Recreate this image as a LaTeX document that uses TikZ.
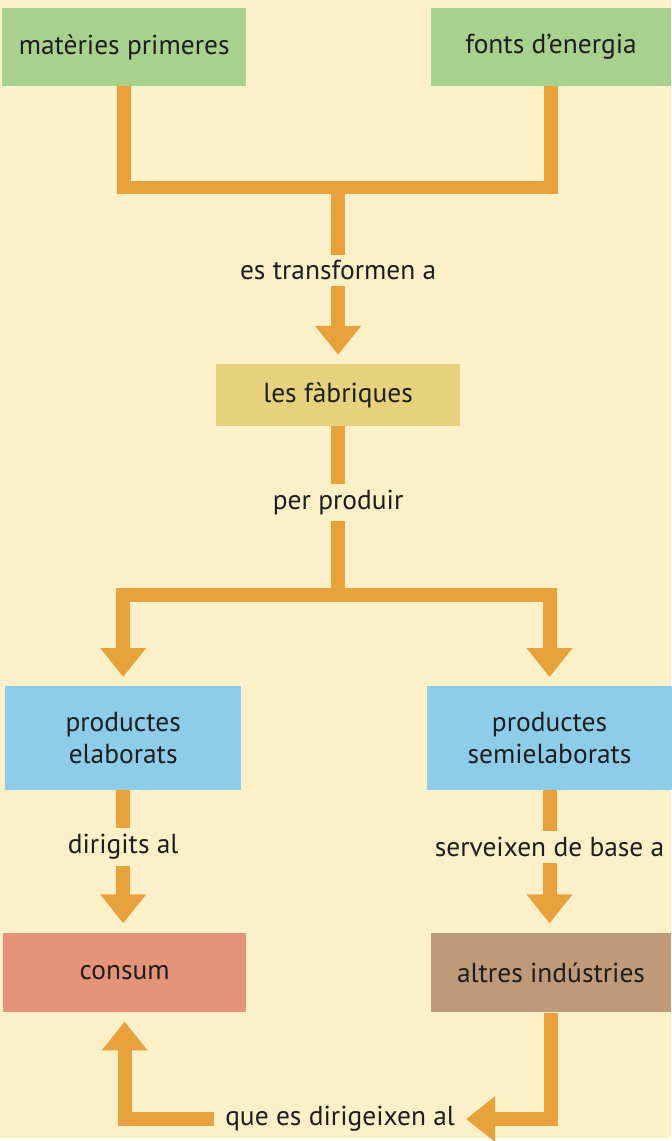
\documentclass[tikz,border=0pt]{standalone}
\usepackage{fontspec}
\setmainfont{PT Sans}
\usepackage{xcolor}
\usetikzlibrary{arrows.meta}

\definecolor{paper}{HTML}{FCF0C8}
\definecolor{flow}{HTML}{E9A23B}
\definecolor{raw}{HTML}{A9D18E}
\definecolor{factory}{HTML}{E6D27C}
\definecolor{product}{HTML}{8ECDE9}
\definecolor{market}{HTML}{E5947A}
\definecolor{industry}{HTML}{BE9A78}
\definecolor{ink}{HTML}{1E1E1E}

\begin{document}
\begin{tikzpicture}[x=1pt,y=-1pt,
    every node/.style={font=\fontsize{27.5}{33}\selectfont, text=ink},
    box/.style={inner sep=0pt, align=center},
    lbl/.style={fill=paper, inner xsep=4pt, inner ysep=6pt},
    line/.style={draw=flow, line width=14pt, line cap=butt, line join=miter},
    arrow/.style={line, -{Triangle[width=44pt,length=29pt]}, shorten >=9pt}]

    % Background
    \fill[paper] (0,0) rectangle (673,1141);

    % Boxes
    \foreach \name/\x/\y/\w/\h/\col/\txt in {
        mat/124.5/47/245/78/raw/{matèries primeres},
        fonts/552.5/47/241/78/raw/{fonts d\char39energia},
        fab/339/396/244/62/factory/{les fàbriques},
        elab/123.5/740/236/104/product/{productes\\elaborats},
        semi/551/740/245/104/product/{productes\\semielaborats},
        cons/125/975/244/80/market/{consum},
        altres/552.5/975/241/80/industry/{altres indústries}} {
        \node[box, fill=\col, minimum width=\w pt, minimum height=\h pt] (\name) at (\x,\y) {\txt};
    }

    \coordinate (top) at (339,188);
    \coordinate (mid) at (339,597);

    % Raw inputs to the factories
    \draw[line] (mat.south) |- (top) -| (fonts.south);
    \draw[arrow] (top) -- (fab.north) node[lbl, pos=0.47] (trans) {es transformen a};

    % Factories to products
    \draw[line] (fab.south) -- (mid) node[lbl, pos=0.45] (prod) {per produir};
    \draw[arrow] (mid) -| (elab.north);
    \draw[arrow] (mid) -| (semi.north);

    % Products to their use
    \draw[arrow] (elab.south) -- (elab.south |- cons.north) node[lbl, pos=0.4] (dir) {dirigits al};
    \draw[arrow] (semi.south) -- (semi.south |- altres.north) node[lbl, pos=0.4] (base) {serveixen de base a};

    % Back to consumption
    \node[inner xsep=0pt] (que) at (341,1122) {que es dirigeixen al};
    \draw[arrow, shorten >=11pt] (altres.south) |- (que.east);
    \draw[arrow, shorten <=11pt] (que.west) -| (cons.south);

\end{tikzpicture}
\end{document}
